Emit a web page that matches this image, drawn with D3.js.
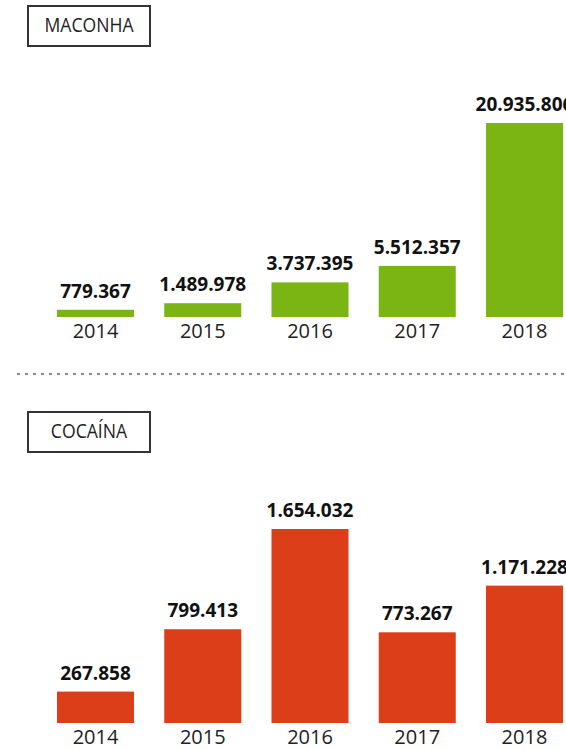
<!DOCTYPE html>
<html>
<head>
<meta charset="utf-8">
<script src="https://cdn.jsdelivr.net/npm/d3@7"></script>
<style>
  html, body { margin: 0; padding: 0; background: #fff; }
  svg { display: block; }
</style>
</head>
<body>
<svg id="chart" width="566" height="750"></svg>
<script>
// Apreensões por ano
const years = ["2014", "2015", "2016", "2017", "2018"];
const maconha = [779367, 1489978, 3737395, 5512357, 20935806];
const cocaina = [267858, 799413, 1654032, 773267, 1171228];

const panels = [
  { title: "MACONHA", values: maconha, color: "#7ab514", top: 6 },
  { title: "COCAÍNA", values: cocaina, color: "#dc3e1a", top: 412 }
];

const svg = d3.select("#chart");
const W = 566;

const fmt = d3.formatLocale({ decimal: ",", thousands: ".", grouping: [3], currency: ["R$", ""] }).format(",d");

const x = d3.scaleBand()
  .domain(years)
  .range([57, 563])
  .paddingInner(0.282)
  .paddingOuter(0);

const barMax = 194;      // height of the tallest bar in each panel
const baseOffset = 311;  // distance from panel top to bar baseline

panels.forEach(p => {
  const g = svg.append("g");
  const base = p.top + baseOffset;

  // title box
  g.append("rect")
    .attr("x", 28).attr("y", p.top)
    .attr("width", 122).attr("height", 40)
    .attr("fill", "#fff")
    .attr("stroke", "#333").attr("stroke-width", 2);
  g.append("text")
    .attr("transform", `translate(89,${p.top + 26}) scale(0.88,1)`)
    .attr("text-anchor", "middle")
    .attr("font-family", "'Open Sans', sans-serif")
    .attr("font-size", 20)
    .attr("fill", "#222")
    .text(p.title);

  const y = d3.scaleLinear()
    .domain([0, d3.max(p.values)])
    .range([base, base - barMax]);

  const data = years.map((yr, i) => ({ yr, v: p.values[i] }));

  g.selectAll("rect.bar")
    .data(data)
    .join("rect")
    .attr("class", "bar")
    .attr("x", d => x(d.yr))
    .attr("width", x.bandwidth())
    .attr("y", d => y(d.v))
    .attr("height", d => y(0) - y(d.v))
    .attr("fill", p.color);

  g.selectAll("text.val")
    .data(data)
    .join("text")
    .attr("class", "val")
    .attr("x", d => x(d.yr) + x.bandwidth() / 2)
    .attr("y", d => y(d.v) - 12)
    .attr("text-anchor", "middle")
    .attr("font-family", "'Open Sans', sans-serif")
    .attr("font-weight", 700)
    .attr("font-size", 19)
    .attr("fill", "#111")
    .text(d => fmt(d.v));

  // year axis
  const axis = d3.axisBottom(x).tickSize(0).tickPadding(0);
  const ax = g.append("g")
    .attr("transform", `translate(0,${base})`)
    .call(axis);
  ax.select(".domain").remove();
  ax.selectAll("text")
    .attr("dy", null)
    .attr("y", 21)
    .attr("font-family", "'Open Sans', sans-serif")
    .attr("font-size", 20)
    .attr("fill", "#222");
});

// dotted separator
svg.append("line")
  .attr("x1", 17).attr("x2", W)
  .attr("y1", 374).attr("y2", 374)
  .attr("stroke", "#888")
  .attr("stroke-width", 2)
  .attr("stroke-dasharray", "3,5");
</script>
</body>
</html>
